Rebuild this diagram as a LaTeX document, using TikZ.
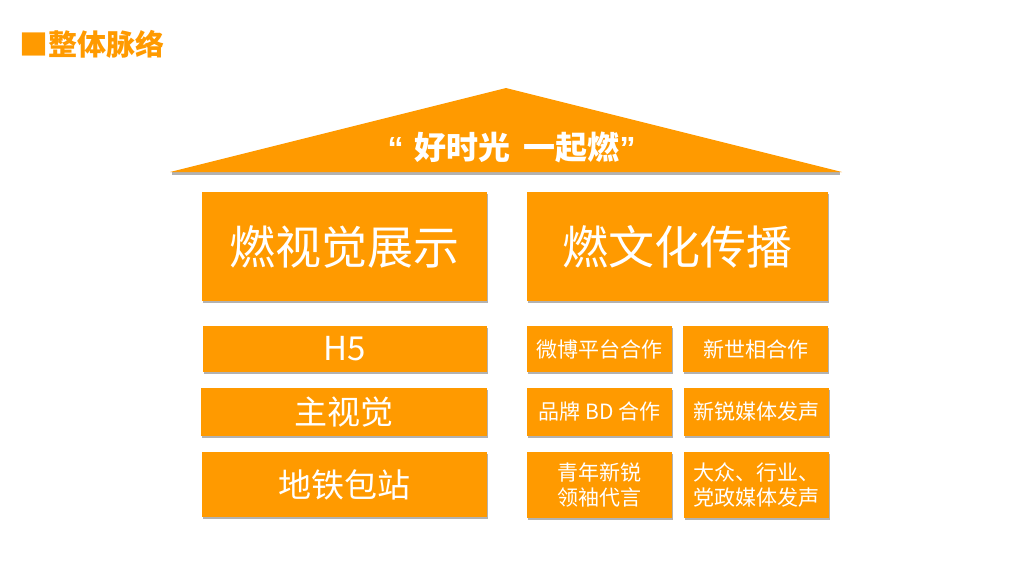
\documentclass[tikz,border=0pt]{standalone}
\usepackage{fontspec}
\setmainfont{Noto Sans CJK SC}
\newfontfamily\latinf{Liberation Sans}
\usetikzlibrary{shadows}
\definecolor{orA}{HTML}{FF9A00}
\tikzset{
  shd/.style={drop shadow={shadow xshift=1pt,shadow yshift=-2pt,fill=black!30,opacity=1}},
  obox/.style={rectangle,fill=orA,draw=none,inner sep=0pt,text=white,align=center,shd},
  bigbox/.style={obox,font=\fontsize{46}{50}\selectfont},
  midbox/.style={obox,font=\fontsize{33}{38}\selectfont},
  smallbox/.style={obox,minimum width=145pt,font=\fontsize{21}{25}\selectfont},
}
\begin{document}
\begin{tikzpicture}[x=1pt,y=-1pt]
\useasboundingbox (0,0) rectangle (1024,576);
\node[anchor=west,text=orA,font=\bfseries\fontsize{29}{32}\selectfont,inner sep=0pt] (title) at (19,44) {■整体脉络};
% roof
\fill[black!30] (172,172) -- (840,172) -- (840,174.5) -- (172,174.5) -- cycle;
\fill[orA] (170,172) -- (506,88) -- (842,172) -- cycle;
\node[text=white,font=\bfseries\fontsize{32}{36}\selectfont,inner sep=0pt] (roof) at (511.5,148) {{\latinf\bfseries“}\hspace{11pt}好时光\hspace{13pt}一起燃{\latinf\bfseries”}};
% big boxes
\node[bigbox,minimum width=285pt,minimum height=109pt] (vis) at (344.5,246.5) {燃视觉展示};
\node[bigbox,minimum width=301pt,minimum height=109pt] (cul) at (677.5,246.5) {燃文化传播};
% left column
\node[midbox,minimum width=284pt,minimum height=46pt] (h5) at (345,349) {H5};
\node[midbox,minimum width=286pt,minimum height=48pt] (kv) at (344,412) {主视觉};
\node[midbox,minimum width=285pt,minimum height=65pt] (metro) at (344.5,484.5) {地铁包站};
% right columns
\node[smallbox,minimum height=46pt] (wb) at (599.5,349) {微博平台合作};
\node[smallbox,minimum height=46pt] (xsx) at (755.5,349) {新世相合作};
\node[smallbox,minimum height=48pt] (bd) at (599.5,412) {品牌 BD 合作};
\node[smallbox,minimum height=48pt] (xr) at (756,412) {新锐媒体发声};
\node[smallbox,minimum height=66pt] (qn) at (599.5,485) {青年新锐\\领袖代言};
\node[smallbox,minimum height=66pt] (dz) at (756,485) {大众、行业、\\党政媒体发声};
\end{tikzpicture}
\end{document}
